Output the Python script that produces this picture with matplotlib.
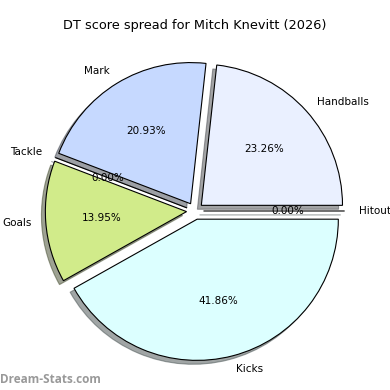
import matplotlib
matplotlib.use("Agg")
import matplotlib.pyplot as plt

labels = ["Handballs", "Mark", "Tackle", "Goals", "Kicks", "Hitout"]
values = [10, 9, 0, 6, 18, 0]
colors = ["#eaf0ff", "#c6d9ff", "#c6d9ff", "#d1eb8a", "#dcffff", "#dcffff"]
explode = [0.06] * 6

fig = plt.figure(figsize=(3.9, 3.9), dpi=100)
ax = fig.add_axes([0.025, 0.0065, 0.95, 0.905])
ax.pie(values, labels=labels, colors=colors, explode=explode, autopct="%1.2f%%",
       shadow=True, startangle=0, wedgeprops=dict(edgecolor="black", linewidth=0.8),
       textprops=dict(fontsize=7.5))
ax.set_aspect("equal")
fig.suptitle("DT score spread for Mitch Knevitt (2026)", fontsize=9.3, y=0.95)
fig.text(0.0, 0.017, "Dream-Stats.com", fontsize=8.5, color="#999999",
         fontweight="bold", family="Open Sans")
fig.savefig("out.png", dpi=100)
